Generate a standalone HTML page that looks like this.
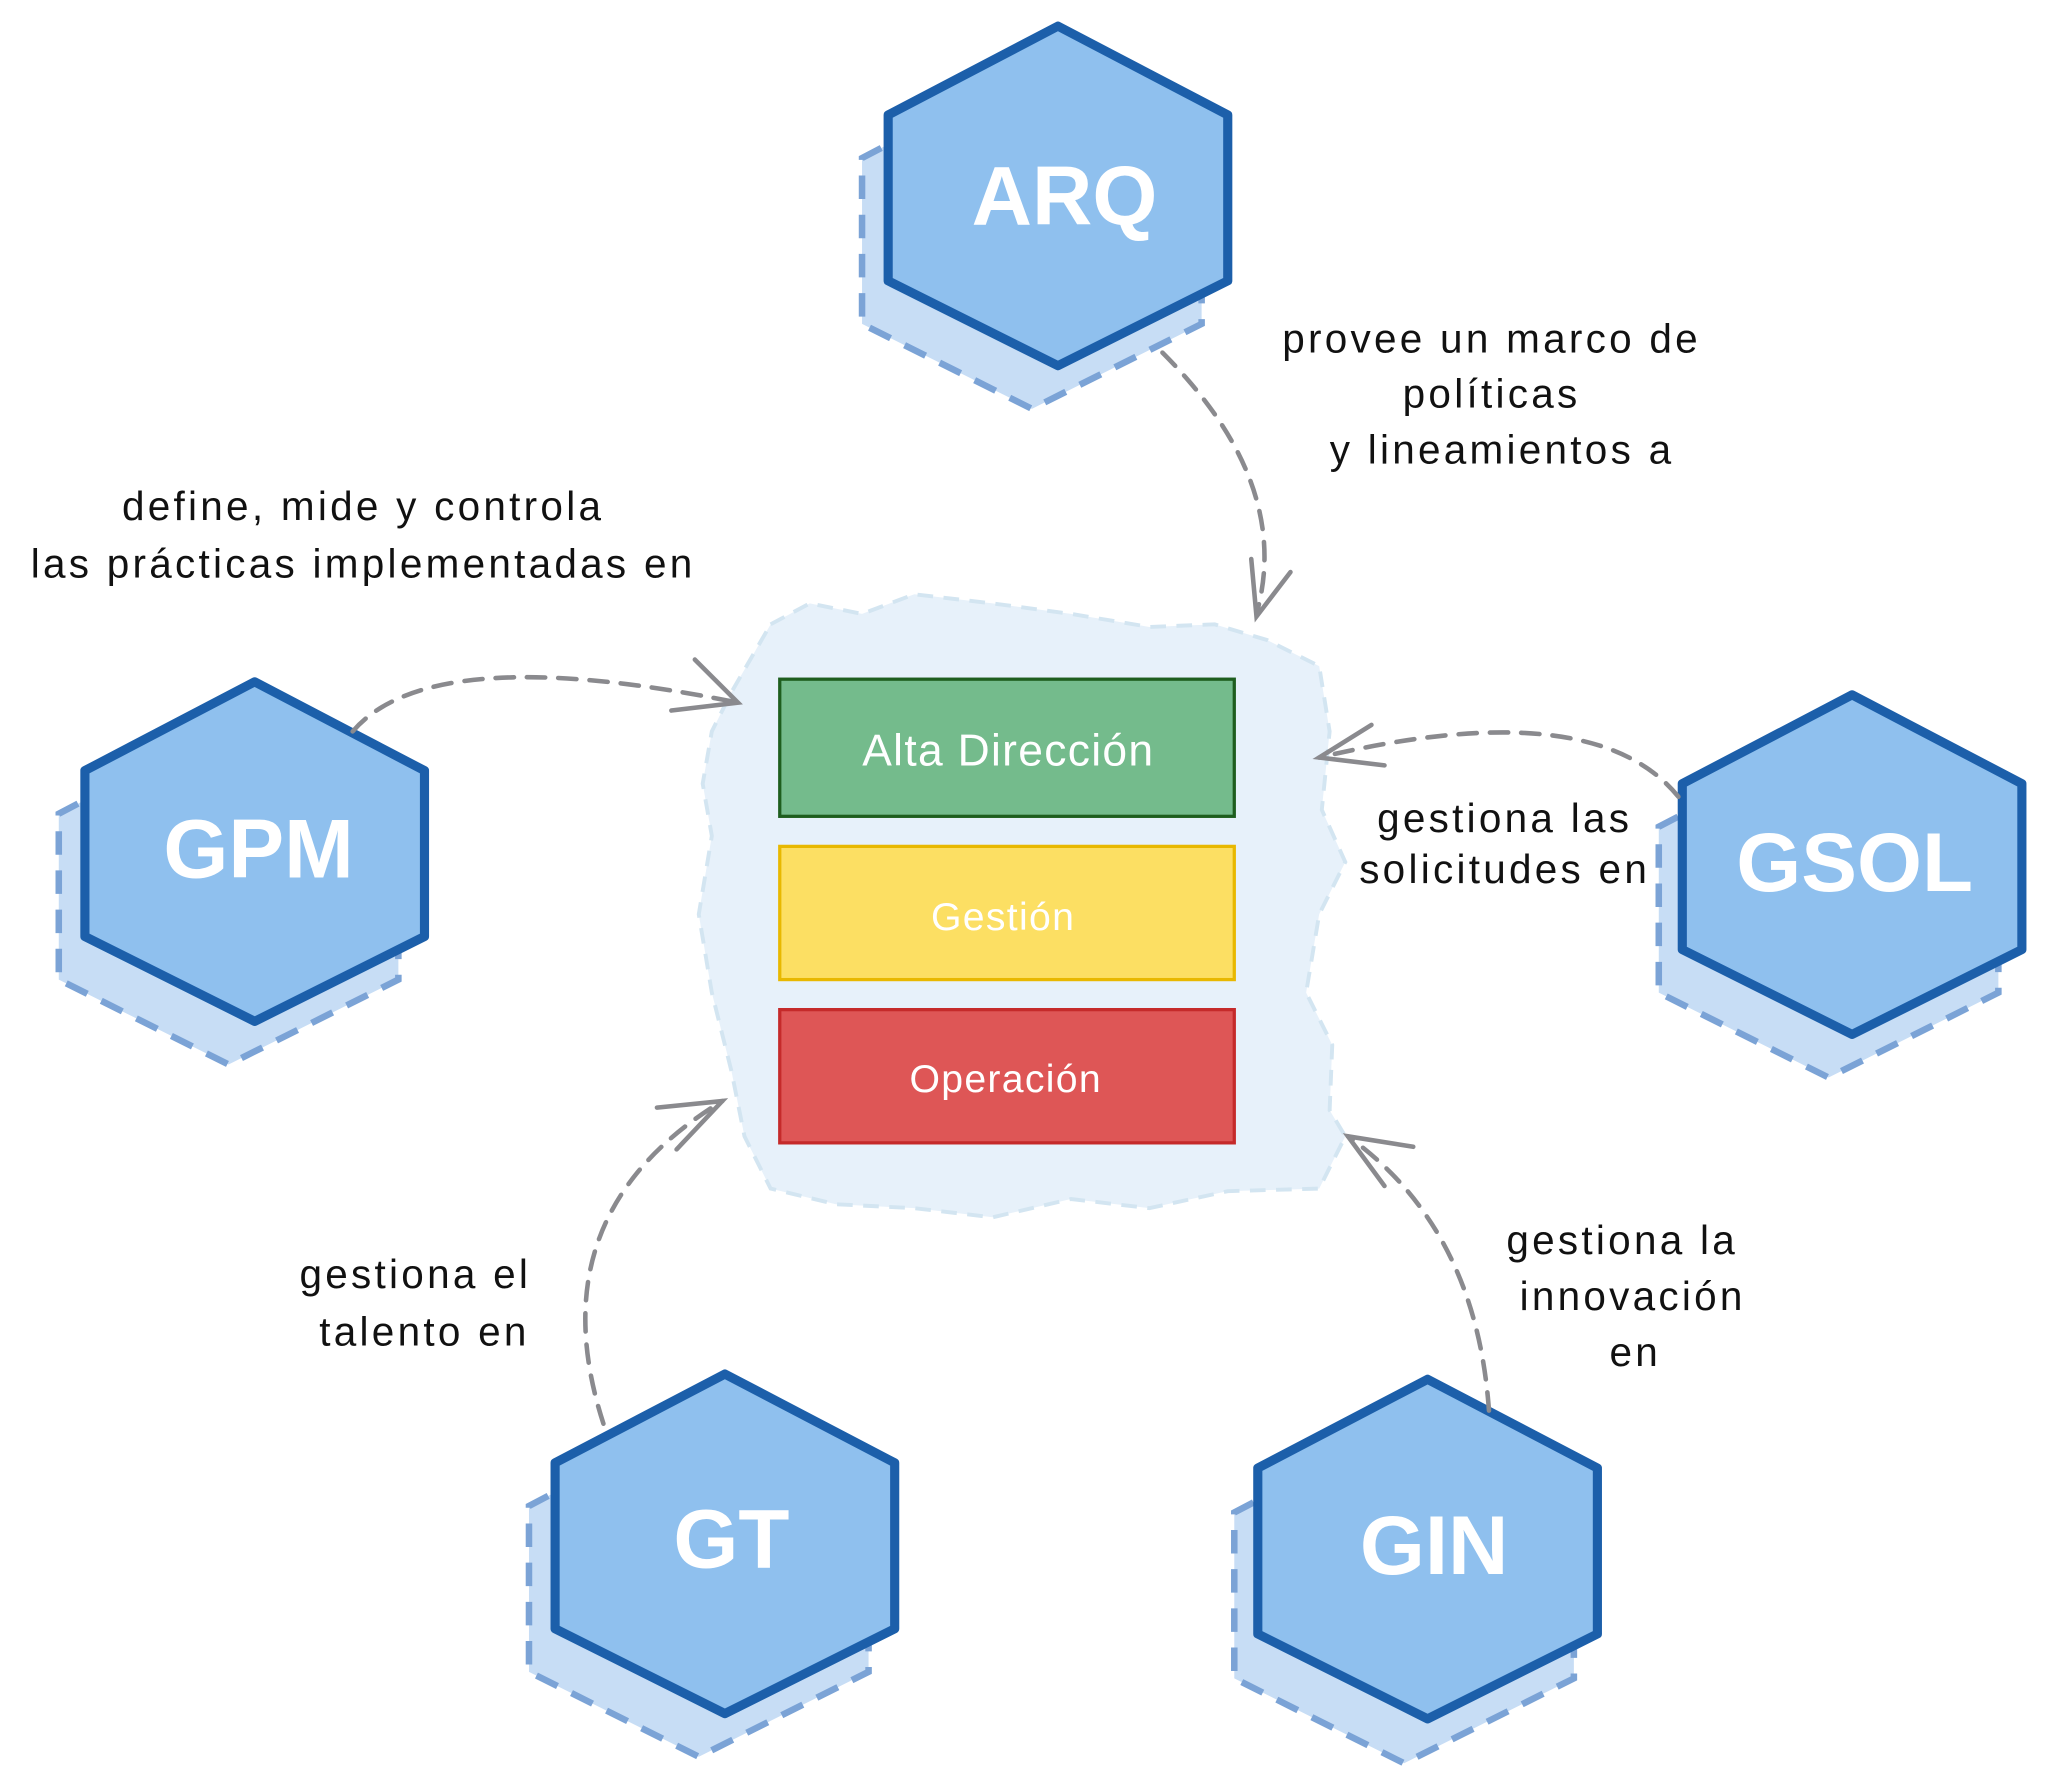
<!DOCTYPE html>
<html><head><meta charset="utf-8"><style>
html,body{margin:0;padding:0;background:#fff;}
svg{display:block;}
text{font-family:"Liberation Sans",sans-serif;}
</style></head><body>
<svg width="2048" height="1792" viewBox="0 0 1568 1372" xmlns="http://www.w3.org/2000/svg">
<defs>
<g id="hx"><polygon points="0,-130 130,-62 130,65 0,130 -130,65 -130,-62"/></g>
</defs>
<path d="M590,478 L620,462 L660,470 L700,455 L760,462 L820,470 L880,480 L930,478 L970,490 L1010,510 L1018,560 L1012,620 L1030,660 L1010,700 L1000,760 L1020,800 L1018,850 L1030,870 L1010,910 L940,912 L880,925 L820,918 L760,932 L700,925 L640,922 L590,910 L570,870 L560,820 L545,760 L535,700 L545,640 L538,600 L545,560 L560,530 Z" fill="#e7f1fa" stroke="#d3e5f1" stroke-width="3" stroke-dasharray="12,8"/>
<rect x="597" y="520" width="348" height="105" fill="#74bb8c" stroke="#1e5e1e" stroke-width="2.5"/>
<rect x="597" y="648" width="348" height="102" fill="#fcdf63" stroke="#e8b800" stroke-width="2.5"/>
<rect x="597" y="773" width="348" height="102" fill="#de5656" stroke="#c52a2a" stroke-width="2.5"/>
<text x="772" y="586" font-size="34" fill="#fff" text-anchor="middle" letter-spacing="1">Alta Dirección</text>
<text x="768" y="712" font-size="30" fill="#fff" text-anchor="middle" letter-spacing="1">Gestión</text>
<text x="770" y="836" font-size="30" fill="#fff" text-anchor="middle" letter-spacing="1">Operación</text>
<g fill="#c7ddf5" stroke="#7ba3d6" stroke-width="5" stroke-dasharray="18,12">
<use href="#hx" transform="translate(790,183)"/>
<use href="#hx" transform="translate(175,685)"/>
<use href="#hx" transform="translate(1400,695)"/>
<use href="#hx" transform="translate(535,1215)"/>
<use href="#hx" transform="translate(1075,1220)"/>
</g>
<g fill="#8fc0ee" stroke="#1c5faa" stroke-width="7" stroke-linejoin="round">
<use href="#hx" transform="translate(810,150)"/>
<use href="#hx" transform="translate(195,652)"/>
<use href="#hx" transform="translate(1418,662)"/>
<use href="#hx" transform="translate(555,1182)"/>
<use href="#hx" transform="translate(1093,1186)"/>
</g>
<g fill="#fff" font-size="64" font-weight="bold" text-anchor="middle">
<text x="815" y="172">ARQ</text>
<text x="198" y="672">GPM</text>
<text x="1420" y="682">GSOL</text>
<text x="560" y="1200">GT</text>
<text x="1098" y="1205">GIN</text>
</g>
<g fill="none" stroke="#8a8a8e" stroke-width="3.5" stroke-dasharray="14,10" stroke-linecap="round">
<path d="M890,270 Q990,370 962,470"/>
<path d="M270,560 Q330,490 565,538"/>
<path d="M1285,610 Q1220,530 1010,580"/>
<path d="M462,1090 Q410,930 553,843"/>
<path d="M1140,1080 Q1130,940 1032,870"/>
</g>
<g fill="none" stroke="#8a8a8e" stroke-width="3.5" stroke-linecap="round">
<path d="M958,428 L962,472 L988,438"/>
<path d="M532,505 L565,538 L514,544"/>
<path d="M1050,555 L1010,580 L1060,586"/>
<path d="M503,848 L553,843 L518,880"/>
<path d="M1082,878 L1032,870 L1060,908"/>
</g>
<g font-size="31" fill="#111" text-anchor="middle" letter-spacing="2.5">
<text x="1142" y="270">provee un marco de</text>
<text x="1142" y="312">políticas</text>
<text x="1150" y="355">y lineamientos a</text>
<text x="278" y="398">define, mide y controla</text>
<text x="278" y="442">las prácticas implementadas en</text>
<text x="1152" y="637">gestiona las</text>
<text x="1152" y="676">solicitudes en</text>
<text x="318" y="986">gestiona el</text>
<text x="325" y="1030">talento en</text>
<text x="1242" y="960">gestiona la</text>
<text x="1250" y="1003">innovación</text>
<text x="1252" y="1046">en</text>
</g>
</svg>
</body></html>
